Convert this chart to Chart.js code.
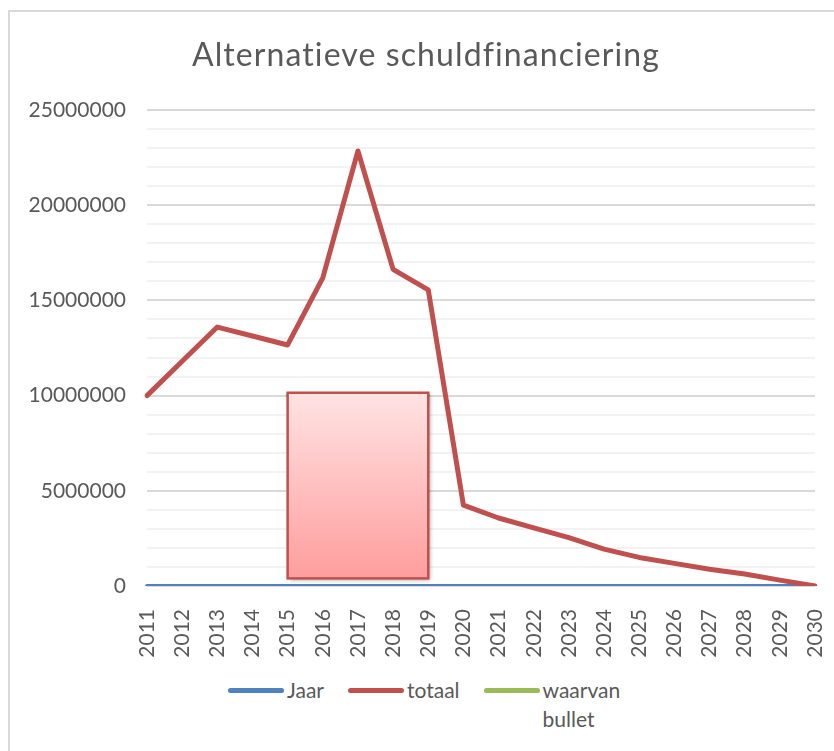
<!DOCTYPE html>
<html>
<head>
<meta charset="utf-8">
<title>Alternatieve schuldfinanciering</title>
<script src="https://cdn.jsdelivr.net/npm/chart.js@4"></script>
<style>
  body { margin: 0; background: #fff; font-family: Lato, sans-serif; }
  #wrap { position: relative; width: 834px; height: 751px; overflow: hidden; }
  #frame { position: absolute; left: 8px; top: 10px; width: 840px; height: 760px;
           border-top: 2px solid #d9d9d9; border-left: 2px solid #d9d9d9; }
  #chart { position: absolute; left: 0; top: 0; }
  #title { position: absolute; left: 0; top: 35px; width: 852px; text-align: center;
           font-size: 32px; line-height: 1.2; letter-spacing: 1.1px; color: #595959; }
  #legend { position: absolute; left: 228px; top: 675px; display: flex; color: #595959;
            font-size: 21px; line-height: 29px; }
  .item { display: flex; align-items: flex-start; margin-right: 24px; }
  .swatch { width: 56px; height: 5px; border-radius: 3px; margin-top: 13px; margin-right: 3px; }
  .item:last-child span { max-width: 90px; }
</style>
</head>
<body>
<div id="wrap">
  <div id="frame"></div>
  <canvas id="chart" width="834" height="660"></canvas>
  <div id="title">Alternatieve schuldfinanciering</div>
  <div id="legend"></div>
</div>
<script>
var jaren = ['2011', '2012', '2013', '2014', '2015', '2016', '2017', '2018', '2019', '2020',
             '2021', '2022', '2023', '2024', '2025', '2026', '2027', '2028', '2029', '2030'];
var jaar = [2011, 2012, 2013, 2014, 2015, 2016, 2017, 2018, 2019, 2020,
            2021, 2022, 2023, 2024, 2025, 2026, 2027, 2028, 2029, 2030];
var totaal = [10000000, 11800000, 13600000, 13130000, 12660000, 16180000, 22850000, 16630000, 15550000, 4250000,
              3570000, 3050000, 2540000, 1940000, 1500000, 1190000, 880000, 630000, 310000, 0];
var bullet = [null, null, null, null, 10000000, 10000000, 10000000, 10000000, 10000000, null,
              null, null, null, null, null, null, null, null, null, null];
var yTicks = [0, 5000000, 10000000, 15000000, 20000000, 25000000];

// rechthoek over de bullet-periode (in as-eenheden)
var bulletBox = { from: '2015', to: '2019', top: 10150000, bottom: 400000 };

var grey = '#595959';
Chart.defaults.font.family = 'Lato, sans-serif';
Chart.defaults.color = grey;

var boxPlugin = {
  id: 'bulletBox',
  afterDatasetsDraw: function(chart) {
    var ctx = chart.ctx;
    var x = chart.scales.x, y = chart.scales.y;
    var left = x.getPixelForValue(jaren.indexOf(bulletBox.from));
    var right = x.getPixelForValue(jaren.indexOf(bulletBox.to));
    var top = y.getPixelForValue(bulletBox.top);
    var bottom = y.getPixelForValue(bulletBox.bottom);
    var grad = ctx.createLinearGradient(0, top, 0, bottom);
    grad.addColorStop(0, '#ffe3e3');
    grad.addColorStop(1, '#ff9d9d');
    ctx.save();
    ctx.shadowColor = 'rgba(0,0,0,0.35)';
    ctx.shadowBlur = 4;
    ctx.shadowOffsetX = 2;
    ctx.shadowOffsetY = 2;
    ctx.fillStyle = grad;
    ctx.fillRect(left, top, right - left, bottom - top);
    ctx.shadowColor = 'transparent';
    ctx.strokeStyle = '#c0504d';
    ctx.lineWidth = 2.5;
    ctx.strokeRect(left, top, right - left, bottom - top);
    ctx.restore();
  }
};

var chart = new Chart(document.getElementById('chart'), {
  type: 'line',
  data: {
    labels: jaren,
    datasets: [
      { label: 'Jaar', data: jaar, borderColor: '#4f81bd', borderWidth: 4, order: 3 },
      { label: 'totaal', data: totaal, borderColor: '#c0504d', borderWidth: 5, order: 2 },
      { label: 'waarvan bullet', data: bullet, borderColor: '#9bbb59', borderWidth: 4, order: 1 }
    ]
  },
  options: {
    responsive: false,
    animation: false,
    elements: {
      point: { radius: 0, hoverRadius: 0 },
      line: { tension: 0, borderCapStyle: 'round', borderJoinStyle: 'round', fill: false }
    },
    layout: { padding: { top: 110, right: 0, left: 0, bottom: 0 } },
    plugins: { legend: { display: false }, tooltip: { enabled: false } },
    scales: {
      x: {
        grid: { display: false },
        border: { display: false },
        ticks: { minRotation: 90, maxRotation: 90, autoSkip: false, padding: 15,
                 font: { size: 21 }, color: grey },
        afterFit: function(scale) {
          scale.height = 74;
          scale.paddingLeft = 0;
          scale.paddingRight = 19;
        }
      },
      y: {
        min: 0,
        max: 25000000,
        border: { display: false },
        grid: {
          drawTicks: false,
          lineWidth: 2,
          color: function(c) { return yTicks.indexOf(c.tick.value) >= 0 ? '#d9d9d9' : '#f2f2f2'; }
        },
        ticks: {
          stepSize: 1000000,
          autoSkip: false,
          padding: 21,
          font: { size: 21 },
          color: grey,
          callback: function(v) { return yTicks.indexOf(v) >= 0 ? String(v) : ''; }
        },
        afterFit: function(scale) { scale.width = 147; }
      }
    }
  },
  plugins: [boxPlugin]
});

var legend = document.getElementById('legend');
chart.data.datasets.forEach(function(ds) {
  var item = document.createElement('div');
  item.className = 'item';
  var sw = document.createElement('div');
  sw.className = 'swatch';
  sw.style.background = ds.borderColor;
  var txt = document.createElement('span');
  txt.textContent = ds.label;
  item.appendChild(sw);
  item.appendChild(txt);
  legend.appendChild(item);
});
</script>
</body>
</html>
